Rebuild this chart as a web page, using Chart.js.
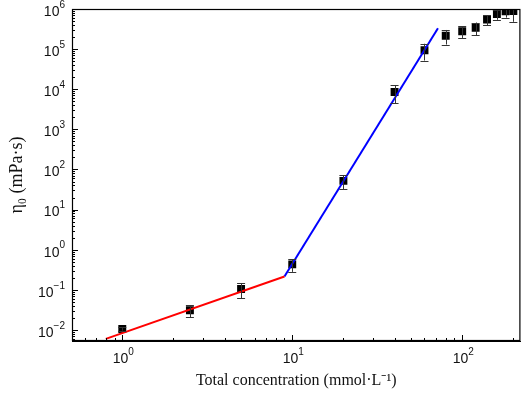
<!DOCTYPE html>
<html>
<head>
<meta charset="utf-8">
<script src="https://cdn.jsdelivr.net/npm/chart.js@4/dist/chart.umd.min.js"></script>
<style>
  html, body { margin: 0; padding: 0; background: #fff; }
  #wrap { width: 526px; height: 394px; position: relative; }
</style>
</head>
<body>
<div id="wrap"><canvas id="c" width="526" height="394"></canvas></div>
<script>
// ---- data ----
const concentration = [1, 2.5, 5, 10, 20, 40, 60, 80, 100, 120, 140, 160, 180, 200];
const viscosity     = [0.0106, 0.031, 0.105, 0.43, 52, 8500, 94000, 215000, 280000, 340000, 550000, 750000, 880000, 890000];
const viscosityErr  = [0.001, 0.01, 0.043, 0.15, 20, 4000, 42000, 85000, 90000, 120000, 150000, 210000, 270000, 410000];

const fitLowX  = [0.8, 9];
const fitLowY  = [0.006, 0.215];
const fitHighX = [9, 72];
const fitHighY = [0.215, 330000];

const xTickValues = [];
for (let e = -1; e <= 2; e++) for (let m = 1; m <= 9; m++) xTickValues.push(+(m * Math.pow(10, e)).toPrecision(3));
const yTickValues = [];
for (let e = -3; e <= 6; e++) for (let m = 1; m <= 9; m++) yTickValues.push(+(m * Math.pow(10, e)).toPrecision(3));

function exponentOf(v) {
  const e = Math.log10(v);
  const r = Math.round(e);
  return Math.abs(e - r) > 1e-9 ? null : r;
}

const toXY = (xs, ys) => xs.map((x, i) => ({x: x, y: ys[i]}));

// ---- plugins: error bars, inward ticks, frame, power-of-ten labels ----
const errorBars = {
  id: 'errorBars',
  afterDatasetsDraw(chart) {
    const {ctx, chartArea, scales} = chart;
    ctx.save();
    ctx.beginPath();
    ctx.rect(chartArea.left, chartArea.top, chartArea.right - chartArea.left, chartArea.bottom - chartArea.top);
    ctx.clip();
    ctx.strokeStyle = '#333';
    ctx.lineWidth = 1;
    concentration.forEach((c, i) => {
      const x = scales.x.getPixelForValue(c);
      const yTop = scales.y.getPixelForValue(viscosity[i] + viscosityErr[i]);
      const yBot = scales.y.getPixelForValue(Math.max(viscosity[i] - viscosityErr[i], 1e-9));
      ctx.beginPath();
      ctx.moveTo(Math.round(x) + 0.5, yTop);
      ctx.lineTo(Math.round(x) + 0.5, yBot);
      ctx.moveTo(x - 4, Math.round(yTop) + 0.5);
      ctx.lineTo(x + 4, Math.round(yTop) + 0.5);
      ctx.moveTo(x - 4, Math.round(yBot) + 0.5);
      ctx.lineTo(x + 4, Math.round(yBot) + 0.5);
      ctx.stroke();
    });
    ctx.restore();
  }
};

const baseFont = '14px "Liberation Sans", Arial, sans-serif';
const expFont = '10px "Liberation Sans", Arial, sans-serif';

const frameTicks = {
  id: 'frameTicks',
  afterDraw(chart) {
    const {ctx, chartArea: a, scales} = chart;
    ctx.save();
    ctx.strokeStyle = '#000';
    ctx.lineWidth = 1.2;
    ctx.strokeRect(a.left + 0.5, a.top + 0.5, a.right - a.left - 1, a.bottom - a.top - 1);
    ctx.lineWidth = 1;
    ctx.beginPath();
    scales.x.ticks.forEach(t => {
      const px = Math.round(scales.x.getPixelForValue(t.value)) + 0.5;
      if (px < a.left || px > a.right) return;
      const major = exponentOf(t.value) !== null;
      ctx.moveTo(px, a.bottom);
      ctx.lineTo(px, a.bottom - (major ? 6 : 3));
    });
    scales.y.ticks.forEach(t => {
      const py = Math.round(scales.y.getPixelForValue(t.value)) + 0.5;
      if (py < a.top || py > a.bottom) return;
      const major = exponentOf(t.value) !== null;
      ctx.moveTo(a.left, py);
      ctx.lineTo(a.left + (major ? 6 : 3), py);
    });
    ctx.stroke();

    // power-of-ten tick labels
    ctx.fillStyle = '#111';
    ctx.textBaseline = 'middle';
    ctx.textAlign = 'left';
    scales.x.ticks.forEach(t => {
      const e = exponentOf(t.value);
      if (e === null) return;
      const px = scales.x.getPixelForValue(t.value);
      ctx.font = baseFont;
      const wb = ctx.measureText('10').width;
      ctx.font = expFont;
      const es = String(e);
      const we = ctx.measureText(es).width;
      const x0 = px - (wb + we) / 2 + 1;
      ctx.font = baseFont;
      ctx.fillText('10', x0, a.bottom + 18);
      ctx.font = expFont;
      ctx.fillText(es, x0 + wb, a.bottom + 11);
    });
    scales.y.ticks.forEach(t => {
      const e = exponentOf(t.value);
      if (e === null) return;
      const py = scales.y.getPixelForValue(t.value);
      const xr = a.left - 7;
      ctx.font = expFont;
      const es = String(e).replace('-', '\u2212');
      const we = ctx.measureText(es).width;
      ctx.font = baseFont;
      const wb = ctx.measureText('10').width;
      ctx.fillText('10', xr - we - wb, py + 3);
      ctx.font = expFont;
      ctx.fillText(es, xr - we, py - 4);
    });
    ctx.restore();
  }
};

new Chart(document.getElementById('c'), {
  type: 'scatter',
  data: {
    datasets: [
      {
        label: 'Fit (low)',
        data: toXY(fitLowX, fitLowY),
        showLine: true,
        borderColor: '#ff0000',
        borderWidth: 2,
        pointRadius: 0,
        fill: false
      },
      {
        label: 'Fit (high)',
        data: toXY(fitHighX, fitHighY),
        showLine: true,
        borderColor: '#0000ff',
        borderWidth: 2,
        pointRadius: 0,
        fill: false
      },
      {
        label: 'η0',
        data: toXY(concentration, viscosity),
        showLine: false,
        pointStyle: 'rect',
        pointRadius: 5.6,
        pointBackgroundColor: '#000',
        pointBorderColor: '#000',
        pointBorderWidth: 0
      }
    ]
  },
  options: {
    responsive: false,
    animation: false,
    devicePixelRatio: 1,
    layout: { padding: { top: 9, right: 3, left: 0, bottom: 0 } },
    plugins: { legend: { display: false }, tooltip: { enabled: false } },
    scales: {
      x: {
        type: 'logarithmic',
        position: 'bottom',
        min: 0.506,
        max: 220,
        afterBuildTicks: s => { s.ticks = xTickValues.filter(v => v >= s.min && v <= s.max).map(v => ({value: v})); },
        afterFit: s => { s.height = 53; },
        grid: { display: false, drawTicks: false },
        border: { display: true, color: '#000', width: 1 },
        ticks: { display: false },
        title: {
          display: true,
          text: 'Total concentration (mmol·L⁻¹)',
          color: '#111',
          font: { family: 'Liberation Serif', size: 16 },
          padding: { top: 2, bottom: 4 }
        }
      },
      y: {
        type: 'logarithmic',
        position: 'left',
        min: 0.0053,
        max: 1e6,
        afterBuildTicks: s => { s.ticks = yTickValues.filter(v => v >= s.min && v <= s.max).map(v => ({value: v})); },
        afterFit: s => { s.width = 72; },
        grid: { display: false, drawTicks: false },
        border: { display: true, color: '#000', width: 1 },
        ticks: { display: false },
        title: {
          display: true,
          text: 'η₀ (mPa·s)',
          color: '#111',
          font: { family: 'Liberation Serif', size: 18 },
          padding: { top: 6, bottom: 0 }
        }
      }
    }
  },
  plugins: [errorBars, frameTicks]
});
</script>
</body>
</html>
